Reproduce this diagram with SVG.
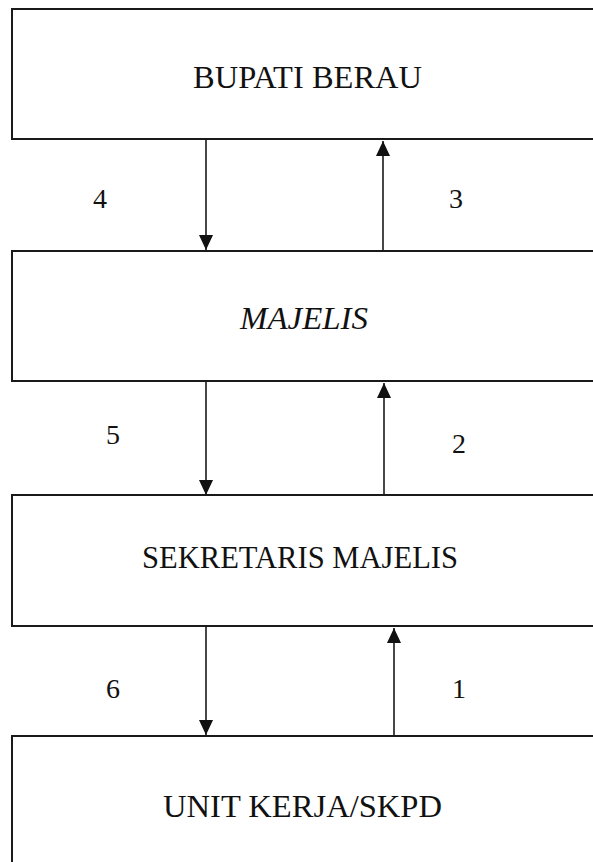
<svg xmlns="http://www.w3.org/2000/svg" width="593" height="862" viewBox="0 0 593 862">
  <style>
    .box { fill: #ffffff; stroke: #1a1a1a; stroke-width: 2; }
    .label { font-family: "Liberation Serif", "Times New Roman", serif; font-size: 31px; fill: #111111; text-anchor: middle; }
    .num { font-family: "Liberation Serif", "Times New Roman", serif; font-size: 28px; fill: #111111; text-anchor: middle; }
    .conn { stroke: #1a1a1a; stroke-width: 1.6; fill: none; marker-end: url(#arrow); }
  </style>
  <defs>
    <marker id="arrow" markerUnits="userSpaceOnUse" markerWidth="16" markerHeight="15" refX="15" refY="7" orient="auto">
      <path d="M0,0 L15,7 L0,14 Z" fill="#111111"/>
    </marker>
  </defs>
  <rect x="0" y="0" width="593" height="862" fill="#ffffff"/>

  <g id="node-bupati">
    <rect class="box" x="12" y="9" width="600" height="130"/>
    <text class="label" x="307.5" y="88" textLength="229" lengthAdjust="spacingAndGlyphs">BUPATI BERAU</text>
  </g>
  <g id="node-majelis">
    <rect class="box" x="12" y="251" width="600" height="130"/>
    <text class="label" x="304" y="329" font-style="italic" textLength="128" lengthAdjust="spacingAndGlyphs">MAJELIS</text>
  </g>
  <g id="node-sekretaris">
    <rect class="box" x="12" y="495" width="600" height="131"/>
    <text class="label" x="300" y="568" textLength="316" lengthAdjust="spacingAndGlyphs">SEKRETARIS MAJELIS</text>
  </g>
  <g id="node-unit">
    <rect class="box" x="12" y="736" width="600" height="140"/>
    <text class="label" x="302.5" y="817" textLength="279" lengthAdjust="spacingAndGlyphs">UNIT KERJA/SKPD</text>
  </g>

  <g id="connectors">
    <line class="conn" x1="206" y1="139" x2="206" y2="250"/>
    <line class="conn" x1="383" y1="251" x2="383" y2="141"/>
    <line class="conn" x1="206" y1="381" x2="206" y2="495"/>
    <line class="conn" x1="384" y1="495" x2="384" y2="383"/>
    <line class="conn" x1="206" y1="626" x2="206" y2="735"/>
    <line class="conn" x1="394" y1="736" x2="394" y2="628"/>
    <text class="num" x="100" y="208">4</text>
    <text class="num" x="456" y="208">3</text>
    <text class="num" x="113" y="444">5</text>
    <text class="num" x="459" y="453">2</text>
    <text class="num" x="113" y="698">6</text>
    <text class="num" x="459" y="698">1</text>
  </g>
</svg>
